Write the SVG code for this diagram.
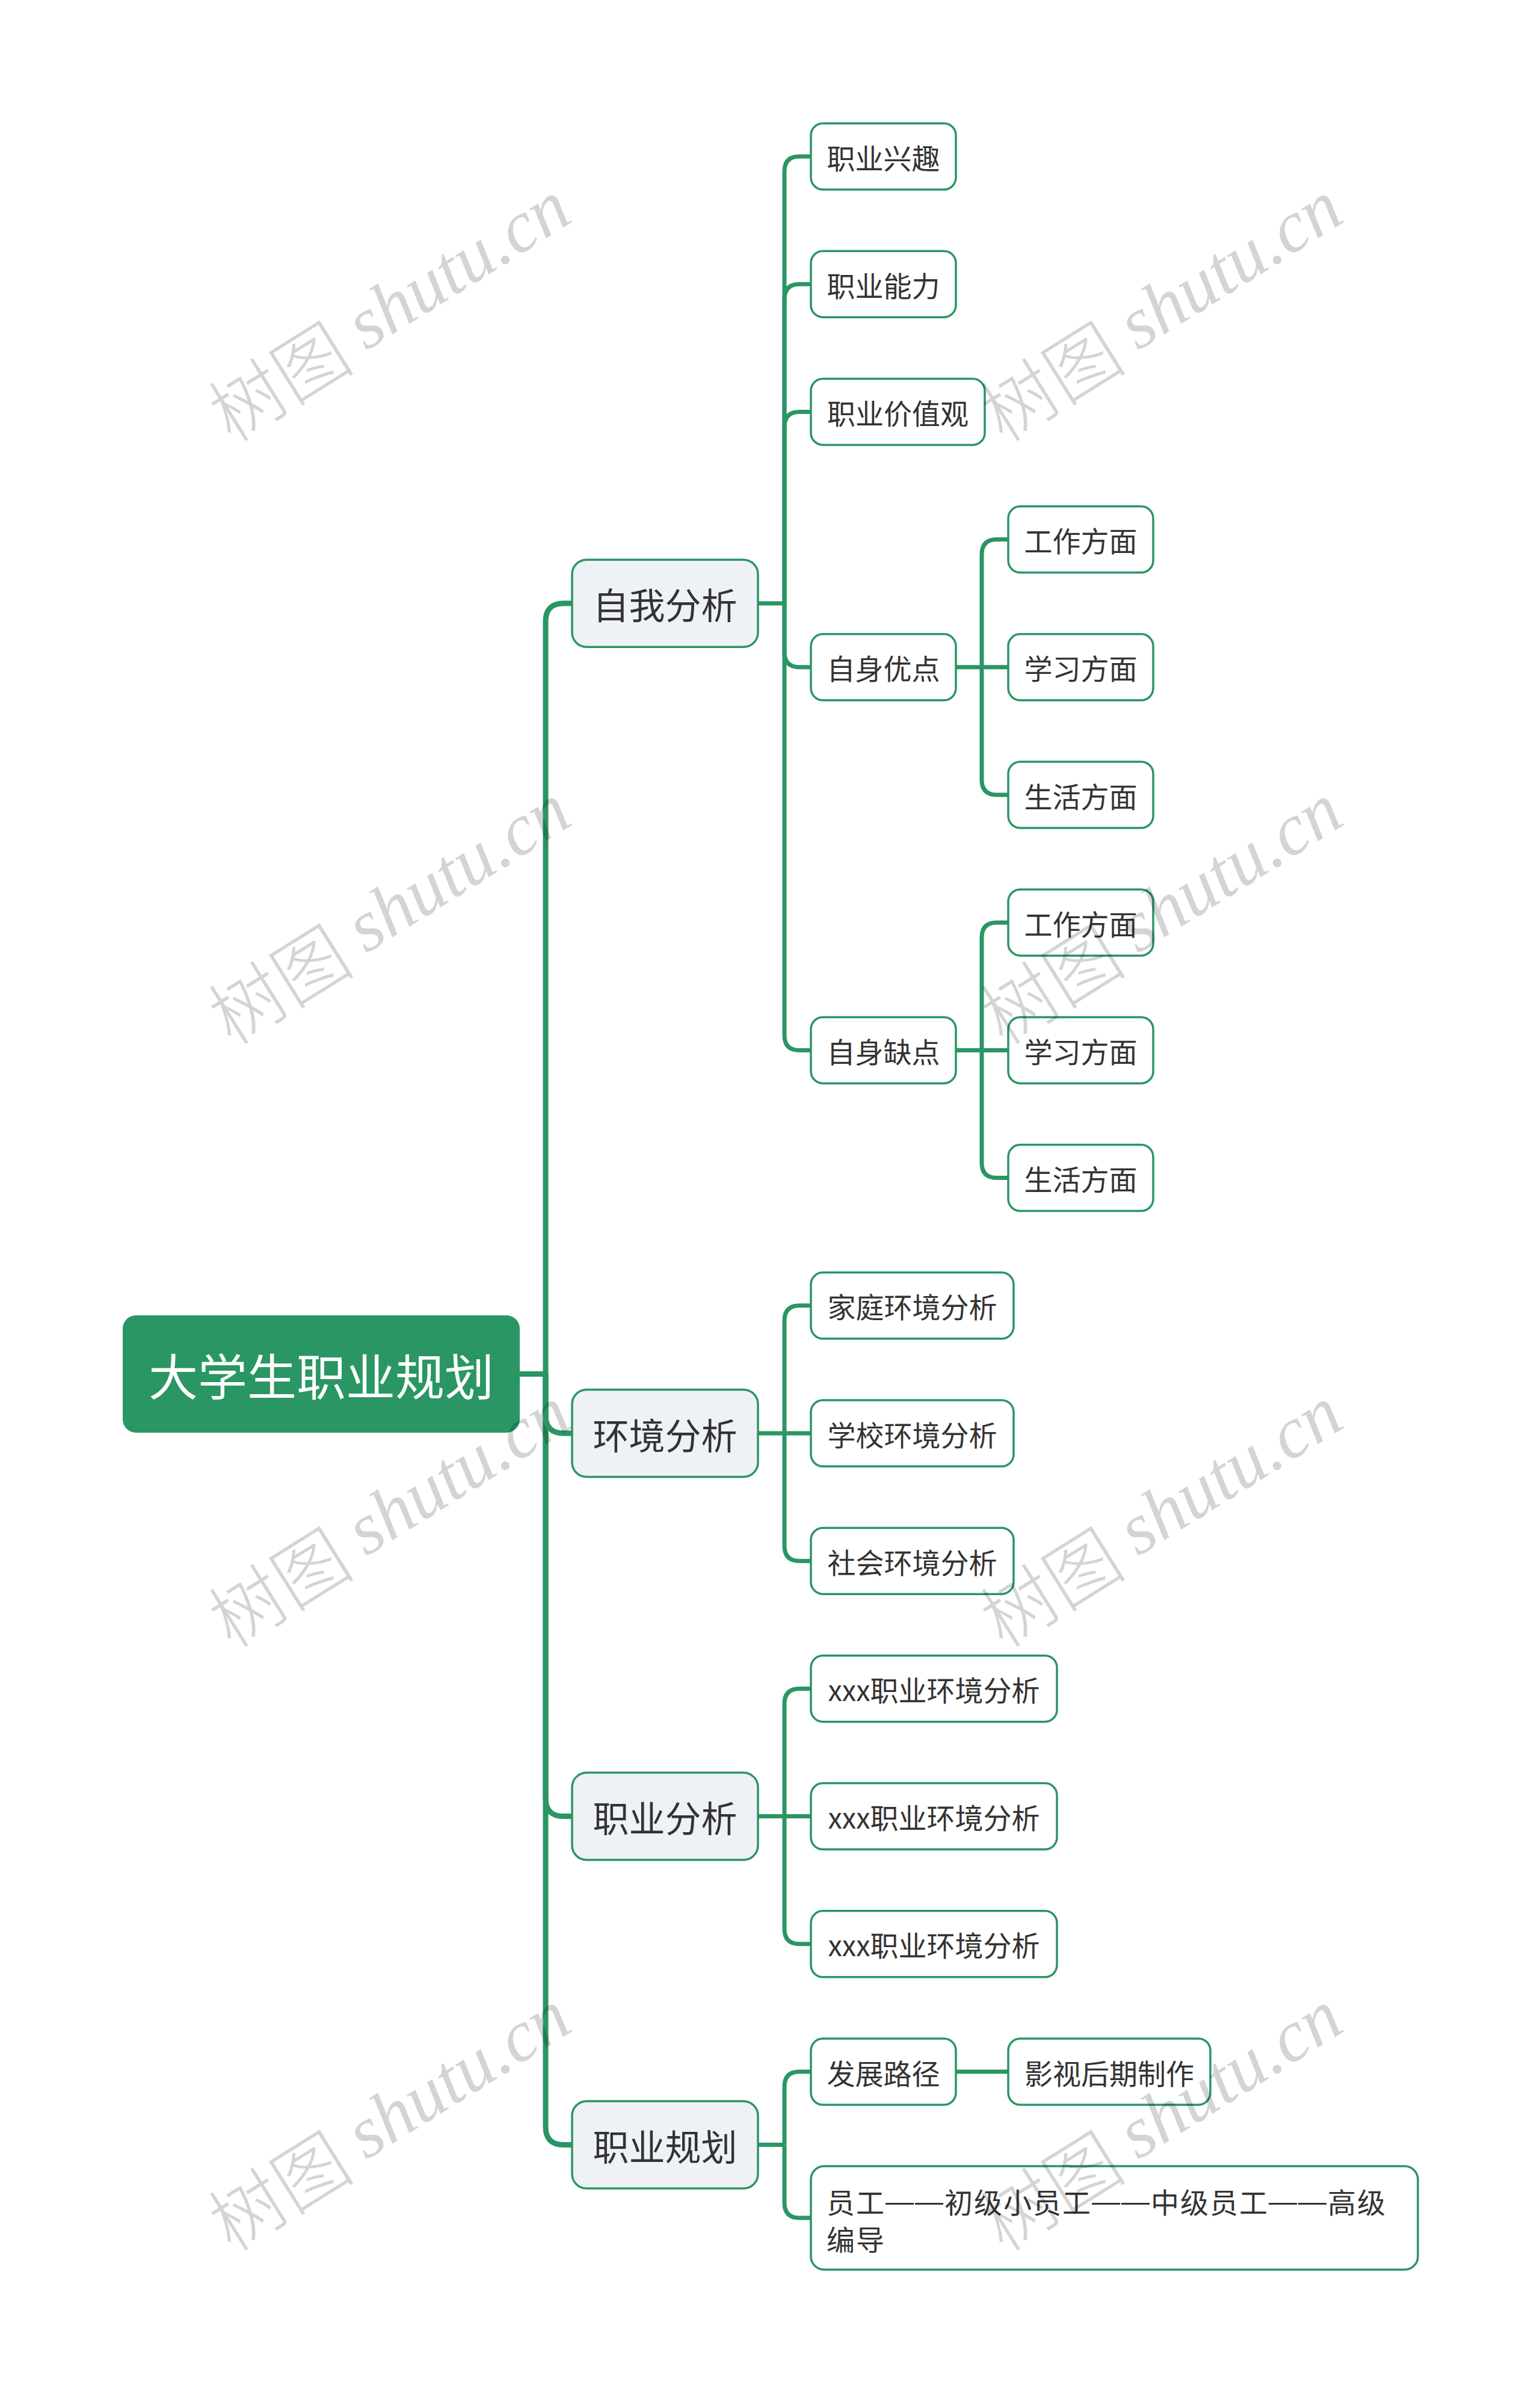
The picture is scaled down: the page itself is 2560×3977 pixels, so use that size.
<svg xmlns="http://www.w3.org/2000/svg" width="2560" height="3977" viewBox="0 0 2560 3977">
<style>
.bg{fill:#ffffff}
.root{fill:#2a9663}
.l1{fill:#eef1f5;stroke:#2a9663;stroke-width:3.5}
.leaf{fill:#ffffff;stroke:#2a9663;stroke-width:3.5}
.t{font-family:"Noto Sans CJK SC","Noto Sans",sans-serif;fill:#333333;dominant-baseline:central}
.tr{font-size:82px;fill:#ffffff;text-anchor:middle}
.t1{font-size:60px;text-anchor:middle}
.t2{font-size:47px;text-anchor:middle}
.tl{font-size:47px;letter-spacing:2px}
.dash{font-family:"Liberation Sans",sans-serif}
.c0{fill:none;stroke:#2a9663;stroke-width:9}
.c1{fill:none;stroke:#2a9663;stroke-width:7}
.wm{fill:#000000;fill-opacity:0.17;font-size:122px;text-anchor:middle;dominant-baseline:central}
.wmc{font-family:"Noto Sans CJK SC",sans-serif;font-weight:300}
.wml{font-family:"Liberation Serif",serif;font-style:italic}
</style>
<rect class="bg" x="0" y="0" width="2560" height="3977"/>
<g id="connectors">
<path class="c0" d="M864,2283.5 H907"/>
<path class="c0" d="M907,2283.5 V1032.7 Q907,1002.7 937,1002.7 H951"/>
<path class="c0" d="M907,2283.5 V2352 Q907,2382 937,2382 H951"/>
<path class="c0" d="M907,2283.5 V2988.6 Q907,3018.6 937,3018.6 H951"/>
<path class="c0" d="M907,2283.5 V3534.5 Q907,3564.5 937,3564.5 H951"/>
<path class="c1" d="M1260,1002.7 H1304"/>
<path class="c1" d="M1304,1002.7 V285 Q1304,260 1329,260 H1348"/>
<path class="c1" d="M1304,1002.7 V497.2 Q1304,472.2 1329,472.2 H1348"/>
<path class="c1" d="M1304,1002.7 V709.4 Q1304,684.4 1329,684.4 H1348"/>
<path class="c1" d="M1304,1002.7 V1083.8 Q1304,1108.8 1329,1108.8 H1348"/>
<path class="c1" d="M1304,1002.7 V1720.4 Q1304,1745.4 1329,1745.4 H1348"/>
<path class="c1" d="M1589,1108.8 H1676"/>
<path class="c1" d="M1632,1108.8 V921.6 Q1632,896.6 1657,896.6 H1676"/>
<path class="c1" d="M1632,1108.8 V1296 Q1632,1321 1657,1321 H1676"/>
<path class="c1" d="M1589,1745.4 H1676"/>
<path class="c1" d="M1632,1745.4 V1558.2 Q1632,1533.2 1657,1533.2 H1676"/>
<path class="c1" d="M1632,1745.4 V1932.6 Q1632,1957.6 1657,1957.6 H1676"/>
<path class="c1" d="M1260,2382 H1348"/>
<path class="c1" d="M1304,2382 V2194.8 Q1304,2169.8 1329,2169.8 H1348"/>
<path class="c1" d="M1304,2382 V2569.2 Q1304,2594.2 1329,2594.2 H1348"/>
<path class="c1" d="M1260,3018.6 H1348"/>
<path class="c1" d="M1304,3018.6 V2831.4 Q1304,2806.4 1329,2806.4 H1348"/>
<path class="c1" d="M1304,3018.6 V3205.8 Q1304,3230.8 1329,3230.8 H1348"/>
<path class="c1" d="M1260,3564.5 H1304"/>
<path class="c1" d="M1304,3564.5 V3468 Q1304,3443 1329,3443 H1348"/>
<path class="c1" d="M1304,3564.5 V3661 Q1304,3686 1329,3686 H1348"/>
<path class="c1" d="M1589,3443 H1676"/>
</g>
<g id="root"><rect class="root" x="204" y="2186" width="660" height="195" rx="22"/><text class="t tr" x="534" y="2283.5">大学生职业规划</text></g>
<g id="n-ziwo"><rect class="l1" x="951" y="930.2" width="309" height="145" rx="24"/><text class="t t1" x="1105.5" y="1002.7">自我分析</text></g>
<g id="n-huanjing"><rect class="l1" x="951" y="2309.5" width="309" height="145" rx="24"/><text class="t t1" x="1105.5" y="2382">环境分析</text></g>
<g id="n-zhiyefenxi"><rect class="l1" x="951" y="2946.1" width="309" height="145" rx="24"/><text class="t t1" x="1105.5" y="3018.6">职业分析</text></g>
<g id="n-zhiyeguihua"><rect class="l1" x="951" y="3492" width="309" height="145" rx="24"/><text class="t t1" x="1105.5" y="3564.5">职业规划</text></g>
<g id="n-xingqu"><rect class="leaf" x="1348" y="205" width="241" height="110" rx="20"/><text class="t t2" x="1468.5" y="260">职业兴趣</text></g>
<g id="n-nengli"><rect class="leaf" x="1348" y="417.2" width="241" height="110" rx="20"/><text class="t t2" x="1468.5" y="472.2">职业能力</text></g>
<g id="n-jiazhiguan"><rect class="leaf" x="1348" y="629.4" width="289" height="110" rx="20"/><text class="t t2" x="1492.5" y="684.4">职业价值观</text></g>
<g id="n-youdian"><rect class="leaf" x="1348" y="1053.8" width="241" height="110" rx="20"/><text class="t t2" x="1468.5" y="1108.8">自身优点</text></g>
<g id="n-quedian"><rect class="leaf" x="1348" y="1690.4" width="241" height="110" rx="20"/><text class="t t2" x="1468.5" y="1745.4">自身缺点</text></g>
<g id="n-yd-gongzuo"><rect class="leaf" x="1676" y="841.6" width="241" height="110" rx="20"/><text class="t t2" x="1796.5" y="896.6">工作方面</text></g>
<g id="n-yd-xuexi"><rect class="leaf" x="1676" y="1053.8" width="241" height="110" rx="20"/><text class="t t2" x="1796.5" y="1108.8">学习方面</text></g>
<g id="n-yd-shenghuo"><rect class="leaf" x="1676" y="1266" width="241" height="110" rx="20"/><text class="t t2" x="1796.5" y="1321">生活方面</text></g>
<g id="n-qd-gongzuo"><rect class="leaf" x="1676" y="1478.2" width="241" height="110" rx="20"/><text class="t t2" x="1796.5" y="1533.2">工作方面</text></g>
<g id="n-qd-xuexi"><rect class="leaf" x="1676" y="1690.4" width="241" height="110" rx="20"/><text class="t t2" x="1796.5" y="1745.4">学习方面</text></g>
<g id="n-qd-shenghuo"><rect class="leaf" x="1676" y="1902.6" width="241" height="110" rx="20"/><text class="t t2" x="1796.5" y="1957.6">生活方面</text></g>
<g id="n-jiating"><rect class="leaf" x="1348" y="2114.8" width="337" height="110" rx="20"/><text class="t t2" x="1516.5" y="2169.8">家庭环境分析</text></g>
<g id="n-xuexiao"><rect class="leaf" x="1348" y="2327" width="337" height="110" rx="20"/><text class="t t2" x="1516.5" y="2382">学校环境分析</text></g>
<g id="n-shehui"><rect class="leaf" x="1348" y="2539.2" width="337" height="110" rx="20"/><text class="t t2" x="1516.5" y="2594.2">社会环境分析</text></g>
<g id="n-xxx1"><rect class="leaf" x="1348" y="2751.4" width="409" height="110" rx="20"/><text class="t t2" x="1552.5" y="2806.4">xxx职业环境分析</text></g>
<g id="n-xxx2"><rect class="leaf" x="1348" y="2963.6" width="409" height="110" rx="20"/><text class="t t2" x="1552.5" y="3018.6">xxx职业环境分析</text></g>
<g id="n-xxx3"><rect class="leaf" x="1348" y="3175.8" width="409" height="110" rx="20"/><text class="t t2" x="1552.5" y="3230.8">xxx职业环境分析</text></g>
<g id="n-lujing"><rect class="leaf" x="1348" y="3388" width="241" height="110" rx="20"/><text class="t t2" x="1468.5" y="3443">发展路径</text></g>
<g id="n-yingshi"><rect class="leaf" x="1676" y="3388" width="336" height="110" rx="20"/><text class="t t2" x="1844" y="3443">影视后期制作</text></g>
<g id="n-yuangong"><rect class="leaf" x="1348" y="3600" width="1009" height="172" rx="22"/><text class="t tl" x="1374" y="3657">员工<tspan class="dash">——</tspan>初级小员工<tspan class="dash">——</tspan>中级员工<tspan class="dash">——</tspan>高级</text><text class="t tl" x="1374" y="3719">编导</text></g>
<g id="watermarks">
<text class="wm" transform="translate(645,511) rotate(-32)"><tspan class="wmc">树图 </tspan><tspan class="wml">shutu.cn</tspan></text>
<text class="wm" transform="translate(1928,511) rotate(-32)"><tspan class="wmc">树图 </tspan><tspan class="wml">shutu.cn</tspan></text>
<text class="wm" transform="translate(645,1513) rotate(-32)"><tspan class="wmc">树图 </tspan><tspan class="wml">shutu.cn</tspan></text>
<text class="wm" transform="translate(1928,1513) rotate(-32)"><tspan class="wmc">树图 </tspan><tspan class="wml">shutu.cn</tspan></text>
<text class="wm" transform="translate(645,2515) rotate(-32)"><tspan class="wmc">树图 </tspan><tspan class="wml">shutu.cn</tspan></text>
<text class="wm" transform="translate(1928,2515) rotate(-32)"><tspan class="wmc">树图 </tspan><tspan class="wml">shutu.cn</tspan></text>
<text class="wm" transform="translate(645,3518) rotate(-32)"><tspan class="wmc">树图 </tspan><tspan class="wml">shutu.cn</tspan></text>
<text class="wm" transform="translate(1928,3518) rotate(-32)"><tspan class="wmc">树图 </tspan><tspan class="wml">shutu.cn</tspan></text>
</g>
</svg>
